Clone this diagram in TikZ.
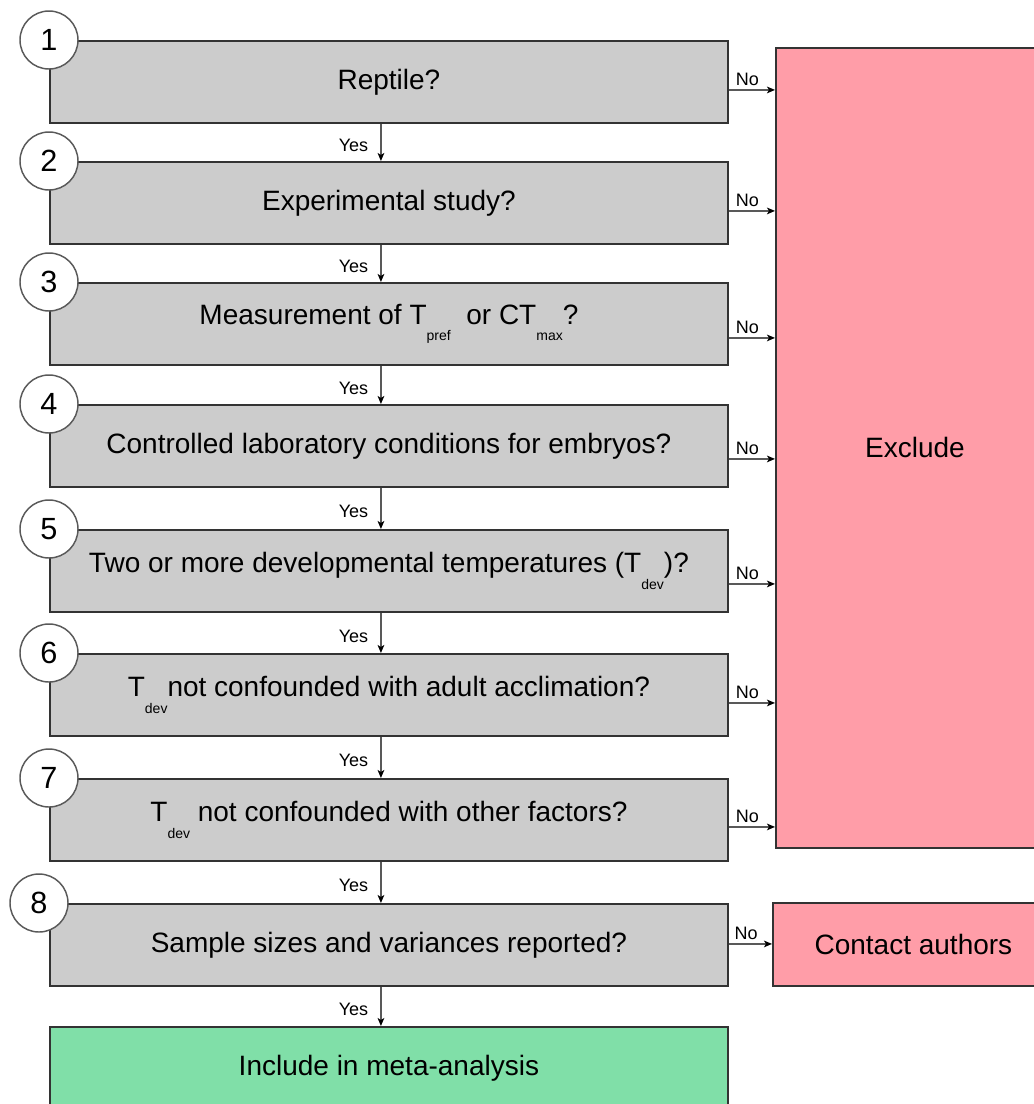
\documentclass[tikz,border=0pt]{standalone}
\usepackage{fontspec}
\setmainfont{Liberation Sans}
\usetikzlibrary{arrows.meta,positioning}
\definecolor{qgray}{HTML}{CCCCCC}
\definecolor{expink}{HTML}{FF9DA8}
\definecolor{incgreen}{HTML}{80DFA8}
\newcommand{\lowsub}[1]{\raisebox{-1.1ex}{\fontsize{10.5}{10.5}\selectfont #1}}
\tikzset{
  qbox/.style={draw=black!80, line width=1.4pt, fill=qgray, anchor=north west,
    minimum width=508.5pt, minimum height=61.5pt, inner sep=0pt,
    font=\fontsize{21}{25}\selectfont},
  numcirc/.style={circle, draw=black!65, line width=1.1pt, fill=white,
    minimum size=43.5pt, inner sep=0pt, font=\fontsize{23}{23}\selectfont},
  arr/.style={draw=black!65, line width=1.1pt,
    -{Stealth[length=6pt, width=5pt, inset=1.5pt, color=black]}},
  lab/.style={font=\fontsize{13.5}{13.5}\selectfont, inner sep=1pt}
}
\begin{document}
\begin{tikzpicture}[x=0.75pt, y=-0.75pt]
  \useasboundingbox (0,0) rectangle (1034,1104);
  %
  \node[qbox] (q1) at (49,40)  {Reptile?};
  \node[qbox] (q2) at (49,161) {Experimental study?};
  \node[qbox] (q3) at (49,282) {Measurement of T\lowsub{pref}\ \ or CT\lowsub{max}?};
  \node[qbox] (q4) at (49,404) {Controlled laboratory conditions for embryos?};
  \node[qbox] (q5) at (49,529) {Two or more developmental temperatures (T\lowsub{dev})?};
  \node[qbox] (q6) at (49,653) {T\lowsub{dev}not confounded with adult acclimation?};
  \node[qbox] (q7) at (49,778) {T\lowsub{dev} not confounded with other factors?};
  \node[qbox] (q8) at (49,903) {Sample sizes and variances reported?};
  \node[qbox, fill=incgreen] (incl) at (49,1026) {Include in meta-analysis};
  %
  \node[qbox, fill=expink, minimum width=208.5pt, minimum height=600pt] (excl) at (775,47) {Exclude};
  \node[qbox, fill=expink, minimum width=210.75pt, minimum height=62.25pt] (cont) at (772,902) {Contact authors};
  %
  \foreach \i in {1,...,7}{
    \node[numcirc] (c\i) at (q\i.north west) {\i};
  }
  \node[numcirc] (c8) at ([xshift=-7.5pt]q8.north west) {8};
  %
  \foreach \a/\b in {q1/q2, q2/q3, q3/q4, q4/q5, q5/q6, q6/q7, q7/q8, q8/incl}{
    \draw[arr] ([xshift=-6pt]\a.south) -- ([xshift=-6pt]\b.north)
      node[lab, pos=0.58, left=8pt] {Yes};
  }
  %
  \foreach \i/\off in {1/6, 2/6, 3/10.5, 4/9.75, 5/9.75, 6/6, 7/5.25}{
    \coordinate (n\i) at ([yshift=-\off pt]q\i.east);
    \draw[arr] (n\i) -- (n\i -| excl.west) node[lab, pos=0.4, above=2pt] {No};
  }
  \coordinate (n8) at ([yshift=0.75pt]q8.east);
  \draw[arr] (n8) -- (n8 -| cont.west) node[lab, pos=0.4, above=2pt] {No};
  %
\end{tikzpicture}
\end{document}
